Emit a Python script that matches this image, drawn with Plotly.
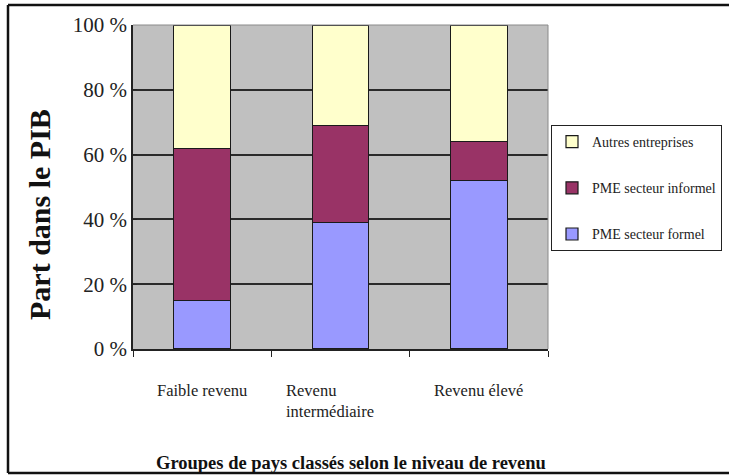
import plotly.graph_objects as go

categories = ["Faible revenu", "Revenu<br>intermédiaire", "Revenu élevé"]
pme_formel = [15, 39, 52]
pme_informel = [47, 30, 12]
autres = [38, 31, 36]
series_names = ["PME secteur formel", "PME secteur informel", "Autres entreprises"]
series_colors = ["#9999FF", "#993366", "#FFFFCC"]
legend_ranks = [3, 2, 1]
y_ticks = [0, 20, 40, 60, 80, 100]

W, H = 729, 475
L, R, T, B = 133, 181, 25, 126
pw, ph = W - L - R, H - T - B

def px_x(x):
    return (x - L) / pw

def px_y(y):
    return (H - B - y) / ph

FONT = "Liberation Serif, Times New Roman, Tinos, DejaVu Serif, serif"

fig = go.Figure()
for name, vals, col, rk in zip(series_names, [pme_formel, pme_informel, autres], series_colors, legend_ranks):
    fig.add_trace(go.Bar(
        x=categories, y=vals, name=name, legendgroup=name, legendrank=rk,
        marker=dict(color=col, line=dict(color="#1a1a1a", width=1.2)),
        width=0.41,
    ))

annotations = []
for i, c in enumerate(categories):
    annotations.append(dict(
        x=c, xref="x", y=px_y(379), yref="paper", yanchor="top", xanchor="center",
        text=c, showarrow=False, align="left", xshift=-11 if "<br>" in c else 0,
        font=dict(family=FONT, size=16.5, color="#222"),
    ))
annotations.append(dict(
    x=px_x(40), y=px_y(215), xref="paper", yref="paper", textangle=-90,
    xanchor="center", yanchor="middle",
    text="<b>Part dans le PIB</b>", showarrow=False,
    font=dict(family=FONT, size=30, color="#111"),
))
annotations.append(dict(
    x=px_x(351), y=px_y(463), xref="paper", yref="paper",
    xanchor="center", yanchor="middle",
    text="<b>Groupes de pays classés selon le niveau de revenu</b>", showarrow=False,
    font=dict(family=FONT, size=18.5, color="#111"),
))

frame = dict(color="#111", width=2.5)
shapes = [
    dict(type="line", xref="paper", yref="paper", x0=px_x(8), x1=px_x(735), y0=px_y(5), y1=px_y(5), line=frame),
    dict(type="line", xref="paper", yref="paper", x0=px_x(8), x1=px_x(735), y0=px_y(473), y1=px_y(473), line=frame),
    dict(type="line", xref="paper", yref="paper", x0=px_x(8), x1=px_x(8), y0=px_y(5), y1=px_y(473), line=frame),
    dict(type="line", xref="paper", yref="paper", x0=0, x1=1, y0=1, y1=1, line=dict(color="#8a8a8a", width=1)),
    dict(type="line", xref="paper", yref="paper", x0=1, x1=1, y0=0, y1=1, line=dict(color="#8a8a8a", width=1)),
]

fig.update_layout(
    width=W, height=H,
    margin=dict(l=L, r=R, t=T, b=B, autoexpand=False),
    paper_bgcolor="white",
    plot_bgcolor="#C0C0C0",
    barmode="stack",
    font=dict(family=FONT, color="#222"),
    annotations=annotations,
    shapes=shapes,
    legend=dict(
        x=px_x(551), y=px_y(125), xanchor="left", yanchor="top",
        traceorder="grouped", tracegroupgap=25,
        bordercolor="#222", borderwidth=1, bgcolor="white",
        font=dict(family=FONT, size=14, color="#222"),
        itemwidth=30,
    ),
    xaxis=dict(
        showticklabels=False, ticks="outside", tickson="boundaries", ticklen=6,
        tickcolor="#222", showline=True, linecolor="#222", linewidth=1.5,
        mirror=False, showgrid=False, zeroline=False,
    ),
    yaxis=dict(
        range=[0, 100], tickvals=y_ticks, ticktext=[f"{v} %" for v in y_ticks],
        ticks="inside", ticklen=4, tickcolor="#222",
        showline=True, linecolor="#222", linewidth=1.5,
        showgrid=True, gridcolor="#2a2a2a", gridwidth=1.5, zeroline=False,
        tickfont=dict(family=FONT, size=21, color="#222"),
    ),
)

fig.write_html("out.html")
